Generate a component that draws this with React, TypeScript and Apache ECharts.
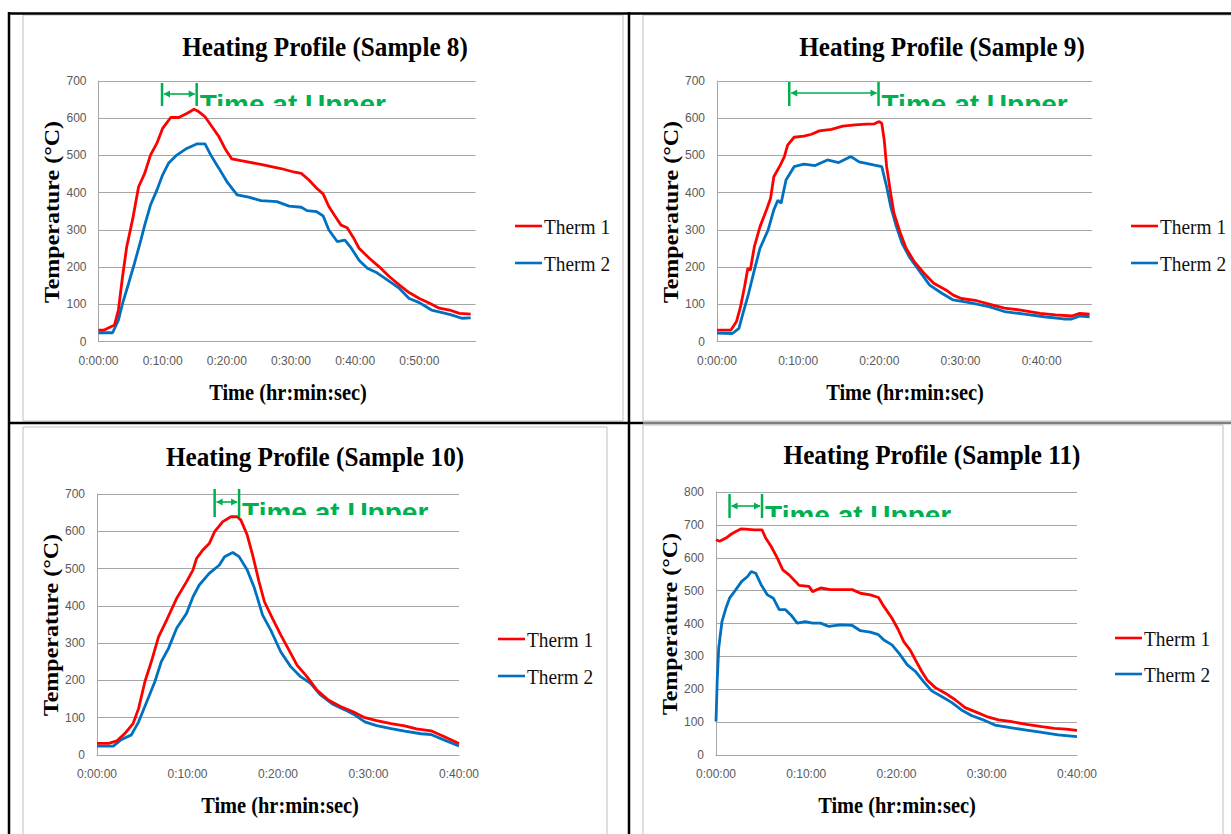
import { useEffect, useRef } from "react";
import * as echarts from "echarts";

// ---------- DATA ----------
const titles = [
  "Heating Profile (Sample 8)",
  "Heating Profile (Sample 9)",
  "Heating Profile (Sample 10)",
  "Heating Profile (Sample 11)",
];
const seriesNames = ["Therm 1", "Therm 2"];
const xAxisTitle = "Time (hr:min:sec)";
const yAxisTitle = "Temperature (°C)";
const annotationText = "Time at Upper";
const yMax = [700, 700, 700, 800];
const xMax = [58.75, 46.2, 40, 40];
const upperStart = [9.9, 8.9, 13.0, 1.5];
const upperEnd = [15.3, 19.9, 15.7, 5.1];

// Sample 8 (minutes, °C)
const s8Therm1Min = [0, 0.8, 2.5, 3.1, 3.75, 4.4, 5.3, 6.25, 7.2, 8.1, 9.1, 10, 11.25, 12.5, 13.75, 14.9, 15.6, 16.6, 17.5, 18.75, 19.7, 20.75, 22.2, 25.3, 28.4, 30.6, 31.6, 32.8, 34, 35, 35.9, 36.9, 37.8, 38.75, 39.7, 40.6, 42.2, 43.75, 45.3, 46.9, 48.4, 50, 51.6, 53.1, 54.7, 56.25, 58];
const s8Therm1Temp = [31, 31, 45, 85, 175, 255, 327, 416, 452, 501, 533, 573, 602, 602, 613, 624, 618, 604, 582, 551, 519, 491, 486, 476, 465, 455, 452, 434, 412, 397, 363, 336, 313, 306, 280, 251, 224, 201, 175, 152, 132, 116, 103, 90, 85, 76, 74];
const s8Therm2Min = [0, 2.2, 3.1, 3.75, 4.7, 5.6, 6.6, 7.2, 8.1, 9.1, 10, 10.9, 12.2, 13.75, 15.3, 16.6, 17.5, 18.75, 20, 21.6, 23.4, 25.3, 27.8, 29.7, 31.6, 32.5, 34, 35, 35.9, 37.2, 38.4, 39.4, 40.6, 41.9, 43.4, 45, 46.9, 48.4, 50, 51.9, 53.4, 55, 56.6, 58];
const s8Therm2Temp = [24, 24, 58, 103, 157, 210, 273, 313, 367, 407, 448, 479, 501, 519, 531, 531, 501, 466, 430, 394, 388, 379, 376, 364, 361, 352, 349, 338, 300, 269, 273, 251, 219, 197, 185, 166, 143, 116, 105, 85, 79, 72, 63, 64];

// Sample 9
const s9Therm1Min = [0, 1.7, 2.4, 2.9, 3.4, 3.8, 4.1, 4.6, 5.3, 6.1, 6.6, 7.0, 7.8, 8.3, 8.7, 9.5, 10.7, 11.65, 12.6, 14.1, 15.5, 17, 18.4, 19.4, 20, 20.3, 20.6, 20.9, 21.4, 21.8, 22.6, 23.3, 24.3, 25.5, 26.7, 28.2, 29.1, 30.1, 32, 34, 35.4, 37.4, 39.8, 41.7, 43.7, 44.7, 45.9];
const s9Therm1Temp = [31, 31, 54, 94, 148, 197, 192, 255, 309, 354, 385, 443, 474, 497, 528, 549, 552, 557, 566, 570, 579, 582, 584, 585, 591, 586, 542, 470, 398, 345, 291, 251, 215, 184, 157, 139, 125, 116, 110, 98, 90, 85, 76, 72, 69, 76, 74];
const s9Therm2Min = [0, 1.9, 2.7, 3.2, 3.9, 4.6, 5.3, 6.3, 7.0, 7.5, 7.9, 8.5, 9.5, 10.7, 12.1, 13.6, 15, 16.5, 17.5, 18.4, 19.4, 20.3, 20.9, 21.4, 22.1, 22.8, 23.8, 25, 26.2, 27.7, 29.1, 31.1, 33.5, 35.4, 37.9, 40.3, 42.7, 43.7, 44.7, 45.9];
const s9Therm2Temp = [23, 22, 36, 76, 130, 192, 251, 300, 354, 380, 372, 434, 470, 477, 473, 488, 481, 497, 483, 479, 474, 470, 416, 363, 309, 264, 224, 188, 152, 130, 112, 105, 94, 81, 74, 67, 61, 61, 69, 67];

// Sample 10
const s10Therm1Min = [0, 1.3, 2.2, 3.1, 4, 4.6, 5.3, 6, 6.8, 7.7, 8.8, 9.9, 10.6, 11, 11.7, 12.4, 13, 13.9, 14.8, 15.5, 15.9, 16.6, 17.2, 17.9, 18.5, 19.4, 20.3, 21.2, 22.1, 23.2, 24.3, 25.6, 26.9, 28.3, 29.6, 30.9, 32.5, 34, 35.3, 36.9, 38.4, 40];
const s10Therm1Temp = [31, 31, 38, 58, 85, 125, 197, 250, 317, 362, 420, 465, 496, 527, 550, 567, 599, 626, 639, 639, 630, 590, 536, 465, 411, 366, 322, 282, 241, 210, 174, 147, 130, 116, 100, 92, 84, 78, 70, 65, 49, 31];
const s10Therm2Min = [0, 1.8, 2.6, 3.8, 4.6, 5.5, 6.4, 7.1, 7.9, 8.8, 9.9, 10.6, 11.3, 12.4, 13.5, 14.1, 15, 15.7, 16.6, 17.4, 18.3, 19.2, 20.3, 21.4, 22.5, 23.6, 24.7, 26, 27.4, 28.5, 29.6, 30.9, 32.5, 34, 35.8, 36.9, 38.4, 40];
const s10Therm2Temp = [24, 24, 40, 54, 89, 143, 197, 250, 286, 340, 380, 424, 456, 487, 509, 532, 543, 532, 496, 447, 375, 335, 277, 237, 210, 192, 161, 137, 121, 107, 89, 79, 71, 64, 57, 55, 40, 24];

// Sample 11
const s11Therm1Min = [0, 0.4, 1.1, 1.75, 2.2, 2.8, 3.3, 4.2, 5.1, 5.5, 6.1, 6.8, 7.4, 8.1, 8.8, 9.2, 10.3, 10.7, 11.6, 12.7, 13.8, 15.1, 16, 17.1, 18, 18.6, 19.5, 20.2, 20.8, 21.5, 22.1, 22.8, 23.4, 24.3, 25.4, 26.5, 27.6, 28.7, 30, 31.3, 32.6, 34.4, 36.1, 37.5, 38.8, 40];
const s11Therm1Temp = [655, 650, 660, 673, 680, 688, 687, 685, 685, 660, 635, 599, 563, 548, 528, 516, 513, 497, 508, 503, 503, 503, 492, 487, 479, 452, 416, 381, 345, 320, 289, 254, 228, 205, 188, 168, 144, 132, 117, 107, 102, 93, 86, 81, 79, 75];
const s11Therm2Min = [0, 0.13, 0.3, 0.66, 1.1, 1.5, 2.2, 2.85, 3.5, 3.9, 4.4, 5, 5.7, 6.35, 7, 7.7, 8.3, 9, 9.9, 10.7, 11.6, 12.5, 13.8, 15.1, 16, 17.1, 18, 18.6, 19.5, 20.4, 21.2, 22.1, 23, 23.9, 25, 26.1, 27.2, 28.3, 29.6, 30.9, 32.6, 34.4, 36.1, 37.9, 40];
const s11Therm2Temp = [102, 223, 325, 406, 447, 477, 503, 528, 543, 558, 553, 518, 487, 477, 442, 442, 426, 401, 406, 401, 401, 391, 396, 394, 378, 374, 366, 350, 335, 305, 274, 254, 223, 195, 178, 160, 137, 120, 107, 91, 83, 76, 69, 61, 56];

const therm1Min = [s8Therm1Min, s9Therm1Min, s10Therm1Min, s11Therm1Min];
const therm1Temp = [s8Therm1Temp, s9Therm1Temp, s10Therm1Temp, s11Therm1Temp];
const therm2Min = [s8Therm2Min, s9Therm2Min, s10Therm2Min, s11Therm2Min];
const therm2Temp = [s8Therm2Temp, s9Therm2Temp, s10Therm2Temp, s11Therm2Temp];

// ---------- LAYOUT / STYLE ----------
const FONT_SERIF = "Liberation Serif";
const FONT_SANS = "Liberation Sans";
const GRID_COLOR = "#a6a6a6";
const LABEL_COLOR = "#595959";
const RED = "#ff0000";
const BLUE = "#0070c0";
const GREEN = "#00b050";
const seriesColors = [RED, BLUE];

const layout = [
  {
    grid: { left: 98.5, top: 81, width: 377, height: 260.7 },
    title: [325, 47], xName: [288, 392], yName: [52, 212], legend: [515, 226], legendStep: 37,
    frame: [23, 15, 600, 406],
    annot: { barTop: 2, barBottom: 25, arrowY: 13, capTop: 13, clip: 25 },
  },
  {
    grid: { left: 717, top: 81, width: 375, height: 260.7 },
    title: [942, 47], xName: [905, 392], yName: [671, 212], legend: [1131, 226], legendStep: 37,
    frame: [643, 15, 600, 406],
    annot: { barTop: 1, barBottom: 25, arrowY: 12, capTop: 13, clip: 25 },
  },
  {
    grid: { left: 97, top: 494, width: 362, height: 261 },
    title: [315, 457], xName: [280, 805], yName: [51.5, 625], legend: [498, 639], legendStep: 37,
    frame: [23, 427, 584, 420],
    annot: { barTop: -5, barBottom: 23, arrowY: 8, capTop: 8, clip: 21 },
  },
  {
    grid: { left: 716, top: 492, width: 361, height: 263 },
    title: [932, 455], xName: [897, 805], yName: [670, 624], legend: [1115, 638], legendStep: 36,
    frame: [643, 425, 580, 420],
    annot: { barTop: 2, barBottom: 26, arrowY: 14, capTop: 13, clip: 25 },
  },
];

const zip = (xs: number[], ys: number[]) => xs.map((x, i) => [x, ys[i]]);
const fmtTime = (v: number) =>
  Math.abs(v % 10) < 1e-6 ? `0:${String(Math.round(v)).padStart(2, "0")}:00` : "";

export default function App() {
  const ref = useRef<HTMLDivElement>(null);

  useEffect(() => {
    const chart = echarts.init(ref.current!, null, { renderer: "svg" });

    const series: any[] = [];
    layout.forEach((_, i) => {
      series.push({
        name: seriesNames[0], type: "line", xAxisIndex: i, yAxisIndex: i,
        data: zip(therm1Min[i], therm1Temp[i]), showSymbol: false, symbol: "none",
        lineStyle: { color: RED, width: 2.8 }, itemStyle: { color: RED }, z: 3,
      });
      series.push({
        name: seriesNames[1], type: "line", xAxisIndex: i, yAxisIndex: i,
        data: zip(therm2Min[i], therm2Temp[i]), showSymbol: false, symbol: "none",
        lineStyle: { color: BLUE, width: 2.8 }, itemStyle: { color: BLUE }, z: 2,
      });
    });

    const option: any = {
      animation: false,
      backgroundColor: "#ffffff",
      grid: layout.map((p) => ({ ...p.grid, containLabel: false })),
      xAxis: layout.map((_, i) => ({
        type: "value", gridIndex: i, min: 0, max: xMax[i], interval: 10,
        axisLine: { show: true, lineStyle: { color: GRID_COLOR, width: 1 } },
        axisTick: { show: false },
        splitLine: { show: false },
        axisLabel: { formatter: fmtTime, margin: 13, fontSize: 12, color: LABEL_COLOR, fontFamily: FONT_SANS },
      })),
      yAxis: layout.map((_, i) => ({
        type: "value", gridIndex: i, min: 0, max: yMax[i], interval: 100,
        axisLine: { show: true, lineStyle: { color: GRID_COLOR, width: 1 } },
        axisTick: { show: false },
        splitLine: { show: true, lineStyle: { color: GRID_COLOR, width: 1 } },
        axisLabel: { margin: 12, fontSize: 12, color: LABEL_COLOR, fontFamily: FONT_SANS },
      })),
      series,
    };
    chart.setOption(option);

    const elements: any[] = [];
    // thin grey chart-area frames
    layout.forEach((p) => {
      const [x, y, w, h] = p.frame;
      elements.push({ type: "rect", shape: { x, y, width: w, height: h }, style: { fill: "none", stroke: "#bfbfbf", lineWidth: 1 }, z: -5 });
    });
    // table borders
    const black = { stroke: "#000", lineWidth: 2.5 };
    elements.push({ type: "line", shape: { x1: 8, y1: 13.5, x2: 1231, y2: 13.5 }, style: black });
    elements.push({ type: "line", shape: { x1: 9, y1: 12, x2: 9, y2: 834 }, style: black });
    elements.push({ type: "line", shape: { x1: 629, y1: 12, x2: 629, y2: 834 }, style: black });
    elements.push({ type: "line", shape: { x1: 8, y1: 423, x2: 643, y2: 423 }, style: black });
    elements.push({ type: "line", shape: { x1: 643, y1: 423, x2: 1231, y2: 423 }, style: { stroke: "#7f7f7f", lineWidth: 2.5 } });

    layout.forEach((p, i) => {
      // title
      elements.push({
        type: "text", x: p.title[0], y: p.title[1], scaleX: 0.9,
        style: { text: titles[i], font: `bold 28px "${FONT_SERIF}"`, fill: "#000", textAlign: "center", textVerticalAlign: "middle" },
      });
      // x axis name
      elements.push({
        type: "text", x: p.xName[0], y: p.xName[1], scaleX: 0.85,
        style: { text: xAxisTitle, font: `bold 24px "${FONT_SERIF}"`, fill: "#000", textAlign: "center", textVerticalAlign: "middle" },
      });
      // y axis name
      elements.push({
        type: "text", x: p.yName[0], y: p.yName[1], rotation: Math.PI / 2, scaleY: 0.85,
        style: { text: yAxisTitle, font: `bold 24px "${FONT_SERIF}"`, fill: "#000", textAlign: "center", textVerticalAlign: "middle" },
      });

      // legend (line key + serif label)
      seriesNames.forEach((name, k) => {
        const ly = p.legend[1] + k * p.legendStep;
        elements.push({
          type: "line", shape: { x1: p.legend[0], y1: ly, x2: p.legend[0] + 27, y2: ly },
          style: { stroke: seriesColors[k], lineWidth: 2.6 },
        });
        elements.push({
          type: "text", x: p.legend[0] + 29, y: ly + 1, scaleX: 0.88,
          style: { text: name, font: `22px "${FONT_SERIF}"`, fill: "#111", textAlign: "left", textVerticalAlign: "middle" },
        });
      });

      // "Time at Upper" annotation
      const xa = chart.convertToPixel({ xAxisIndex: i }, upperStart[i]) as number;
      const xb = chart.convertToPixel({ xAxisIndex: i }, upperEnd[i]) as number;
      const gt = p.grid.top;
      const a = p.annot;
      const ay = gt + a.arrowY;
      const bar = { stroke: GREEN, lineWidth: 2.5 };
      elements.push({ type: "line", z: 4, shape: { x1: xa, y1: gt + a.barTop, x2: xa, y2: gt + a.barBottom }, style: bar });
      elements.push({ type: "line", z: 4, shape: { x1: xb, y1: gt + a.barTop, x2: xb, y2: gt + a.barBottom }, style: bar });
      elements.push({ type: "line", z: 4, shape: { x1: xa + 2, y1: ay, x2: xb - 2, y2: ay }, style: { stroke: GREEN, lineWidth: 1.6 } });
      elements.push({ type: "polygon", z: 4, shape: { points: [[xa + 1.5, ay], [xa + 8, ay - 3.5], [xa + 8, ay + 3.5]] }, style: { fill: GREEN } });
      elements.push({ type: "polygon", z: 4, shape: { points: [[xb - 1.5, ay], [xb - 8, ay - 3.5], [xb - 8, ay + 3.5]] }, style: { fill: GREEN } });
      elements.push({
        type: "text", z: -3, x: xb + 3, y: gt + a.capTop - 4,
        style: { text: annotationText, font: `bold 28px "${FONT_SANS}"`, fill: GREEN, textAlign: "left", textVerticalAlign: "top" },
      });
      elements.push({ type: "rect", z: -2, shape: { x: xb + 2, y: gt + a.clip, width: 205, height: 16 }, style: { fill: "#ffffff" } });
    });

    chart.setOption({ graphic: { elements } });

    return () => chart.dispose();
  }, []);

  return (
    <div
      ref={ref}
      style={{ position: "absolute", left: 0, top: 0, width: 1231, height: 834, background: "#fff" }}
    />
  );
}
